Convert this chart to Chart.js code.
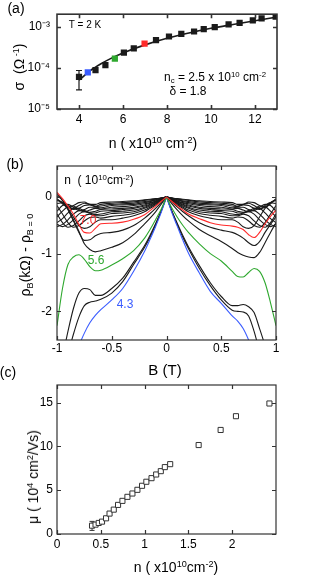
<!DOCTYPE html>
<html>
<head>
<meta charset="utf-8">
<script src="https://cdn.jsdelivr.net/npm/chart.js@4.4.0/dist/chart.umd.min.js"></script>
<style>
  html, body { margin: 0; padding: 0; background: #fff; }
  body { width: 333px; height: 578px; position: relative; overflow: hidden;
         font-family: "Liberation Sans", Arial, sans-serif; color: #000; }
  canvas { position: absolute; left: 0; }
  .t { position: absolute; white-space: nowrap; transform: translate(-50%, -50%); line-height: 1; }
  .rot { transform: translate(-50%, -50%) rotate(-90deg); }
  sup { font-size: 65%; vertical-align: 0.55em; line-height: 0; }
  sub { font-size: 65%; vertical-align: -0.3em; line-height: 0; }
</style>
</head>
<body>
<canvas id="chartA" width="333" height="132" style="top:0px"></canvas>
<canvas id="chartB" width="333" height="210" style="top:150px"></canvas>
<canvas id="chartC" width="333" height="190" style="top:370px"></canvas>

<div class="t" style="left:16px;top:8px;font-size:14px">(a)</div>
<div class="t" style="left:85px;top:25px;font-size:10px">T = 2 K</div>
<div class="t" style="left:215px;top:77px;font-size:12px">n<sub>c</sub> = 2.5 x 10<sup>10</sup> cm<sup>-2</sup></div>
<div class="t" style="left:188px;top:91px;font-size:12px">&delta; = 1.8</div>
<div class="t rot" style="left:19px;top:67px;font-size:14px">&sigma;&nbsp; (&Omega;<sup> -1</sup>)</div>
<div class="t" style="left:153px;top:143px;font-size:14px">n ( x10<sup>10</sup> cm<sup>-2</sup>)</div>

<div class="t" style="left:15px;top:164px;font-size:14px">(b)</div>
<div class="t" style="left:99px;top:180px;font-size:12px">n&nbsp; ( 10<sup>10</sup>cm<sup>-2</sup>)</div>
<div class="t" style="left:88px;top:220px;font-size:12px;color:#ff2a2a">7.0</div>
<div class="t" style="left:96px;top:260px;font-size:12px;color:#2ea82e">5.6</div>
<div class="t" style="left:125px;top:304px;font-size:12px;color:#3a5cff">4.3</div>
<div class="t rot" style="left:25px;top:255px;font-size:14px">&rho;<sub>B</sub>(k&Omega;) - &rho;<sub>B = 0</sub></div>
<div class="t" style="left:165px;top:369px;font-size:15px">B (T)</div>

<div class="t" style="left:8px;top:372px;font-size:14px">(c)</div>
<div class="t rot" style="left:33px;top:477px;font-size:14px">&mu; ( 10<sup>4</sup> cm<sup>2</sup>/Vs)</div>
<div class="t" style="left:176px;top:567px;font-size:14px">n ( x10<sup>10</sup>cm<sup>-2</sup>)</div>

<script>
// ---------- panel (a): conductivity vs density ----------
const A_N = [4.0, 4.4, 4.75, 5.2, 5.63, 6.04, 6.49, 6.98, 7.5, 8.09, 8.65, 9.23, 9.67, 10.17, 10.8, 11.3, 11.9, 12.3, 12.94];
const A_SIGMA = [6.0e-5, 7.7e-5, 8.8e-5, 1.16e-4, 1.66e-4, 2.33e-4, 2.97e-4, 3.87e-4, 4.67e-4, 5.75e-4,
                 6.68e-4, 7.6e-4, 8.7e-4, 9.7e-4, 1.13e-3, 1.23e-3, 1.42e-3, 1.58e-3, 1.75e-3];
const A_ERR = [{ x: 4.0, lo: 2.9e-5, hi: 8.6e-5 }];
const A_FIT_N = [4, 4.5, 5, 5.5, 6, 7, 8, 9, 10, 11, 12, 13];
const A_FIT_SIGMA = [5.0e-5, 8.4e-5, 1.25e-4, 1.74e-4, 2.3e-4, 3.6e-4, 5.2e-4, 7.0e-4, 9.1e-4, 1.13e-3, 1.39e-3, 1.7e-3];
const A_X_TICKS = [4, 6, 8, 10, 12];
const A_Y_TICKS = [1e-5, 1e-4, 1e-3];
const A_Y_TICK_LABELS = ['10\u207B\u2075', '10\u207B\u2074', '10\u207B\u00B3'];

// ---------- panel (b): magnetoresistance curves, |B| grid ----------
const B_GRID = [0, 0.05, 0.1, 0.15, 0.2, 0.3, 0.4, 0.5, 0.6, 0.65, 0.7, 0.75, 0.8, 0.85, 0.9, 0.95, 1.0];
// coloured curves, left (B<0) and right (B>0) halves
const RHO_43_L = [0, -0.28, -0.52, -0.74, -0.95, -1.3, -1.6, -1.8, -1.97, -2.07, -2.2, -2.38, -2.6, -2.85, -3.1, -3.35, -3.6];
const RHO_43_R = [0, -0.28, -0.52, -0.76, -0.98, -1.33, -1.65, -1.86, -2.08, -2.17, -2.3, -2.5, -2.75, -3.0, -3.25, -3.5, -3.75];
const RHO_56_L = [0, -0.22, -0.4, -0.57, -0.72, -0.94, -1.08, -1.19, -1.28, -1.29, -1.22, -1.09, -1.01, -1.05, -1.18, -1.6, -2.25];
const RHO_56_R = [0, -0.2, -0.36, -0.5, -0.62, -0.82, -0.99, -1.12, -1.3, -1.39, -1.4, -1.32, -1.25, -1.3, -1.5, -1.85, -2.25];
const RHO_70_L = [0, -0.08, -0.16, -0.24, -0.31, -0.39, -0.44, -0.46, -0.47, -0.55, -0.63, -0.62, -0.48, -0.3, -0.16, -0.03, 0.08];
const RHO_70_R = [0, -0.08, -0.16, -0.23, -0.3, -0.38, -0.45, -0.49, -0.51, -0.53, -0.57, -0.66, -0.71, -0.62, -0.47, -0.34, -0.23];
// black curves between the coloured ones
const RHO_475_L = [0, -0.26, -0.49, -0.7, -0.88, -1.18, -1.48, -1.68, -1.79, -1.82, -1.84, -1.9, -2.1, -2.4, -2.75, -3.1, -3.4];
const RHO_475_R = [0, -0.26, -0.49, -0.71, -0.9, -1.25, -1.55, -1.8, -1.98, -2.0, -2.01, -2.08, -2.35, -2.7, -3.05, -3.4, -3.7];
const RHO_52_L = [0, -0.25, -0.47, -0.67, -0.85, -1.14, -1.42, -1.6, -1.72, -1.72, -1.62, -1.6, -1.68, -1.95, -2.35, -2.8, -3.2];
const RHO_52_R = [0, -0.25, -0.47, -0.68, -0.87, -1.2, -1.5, -1.74, -1.9, -1.9, -1.88, -1.92, -2.02, -2.3, -2.6, -2.95, -3.3];
const RHO_605_L = [0, -0.13, -0.26, -0.37, -0.47, -0.66, -0.8, -0.88, -0.94, -0.96, -0.92, -0.82, -0.6, -0.4, -0.22, -0.06, 0.02];
const RHO_605_R = [0, -0.12, -0.23, -0.33, -0.42, -0.57, -0.68, -0.78, -0.9, -0.97, -1.02, -1.05, -1.06, -0.97, -0.8, -0.62, -0.45];
const RHO_65_L = [0, -0.1, -0.2, -0.29, -0.37, -0.5, -0.58, -0.62, -0.64, -0.68, -0.75, -0.76, -0.62, -0.42, -0.22, -0.06, 0.06];
const RHO_65_R = [0, -0.09, -0.18, -0.26, -0.33, -0.45, -0.53, -0.58, -0.62, -0.66, -0.72, -0.8, -0.85, -0.78, -0.62, -0.48, -0.35];
// higher densities (7.5 ... 12.9), same half used on both sides
const RHO_HIGH = [
  [0, -0.07, -0.14, -0.2, -0.26, -0.33, -0.37, -0.4, -0.4, -0.44, -0.52, -0.55, -0.5, -0.35, -0.2, -0.1, -0.05],
  [0, -0.06, -0.12, -0.18, -0.23, -0.29, -0.32, -0.34, -0.37, -0.35, -0.36, -0.42, -0.5, -0.53, -0.45, -0.3, -0.15],
  [0, -0.05, -0.11, -0.16, -0.2, -0.26, -0.28, -0.29, -0.33, -0.33, -0.3, -0.33, -0.42, -0.5, -0.53, -0.45, -0.3],
  [0, -0.05, -0.1, -0.14, -0.18, -0.23, -0.25, -0.26, -0.3, -0.31, -0.28, -0.26, -0.3, -0.4, -0.48, -0.52, -0.48],
  [0, -0.04, -0.09, -0.13, -0.16, -0.2, -0.22, -0.24, -0.25, -0.28, -0.28, -0.24, -0.24, -0.3, -0.4, -0.48, -0.52],
  [0, -0.04, -0.08, -0.11, -0.14, -0.18, -0.2, -0.21, -0.22, -0.25, -0.27, -0.25, -0.2, -0.2, -0.28, -0.38, -0.45],
  [0, -0.03, -0.07, -0.1, -0.12, -0.15, -0.17, -0.18, -0.21, -0.2, -0.23, -0.26, -0.22, -0.16, -0.17, -0.25, -0.35],
  [0, -0.03, -0.06, -0.08, -0.1, -0.13, -0.14, -0.15, -0.19, -0.18, -0.18, -0.22, -0.24, -0.18, -0.13, -0.15, -0.25],
  [0, -0.02, -0.05, -0.07, -0.08, -0.11, -0.12, -0.13, -0.16, -0.17, -0.14, -0.15, -0.2, -0.22, -0.15, -0.1, -0.12],
  [0, -0.02, -0.04, -0.05, -0.06, -0.09, -0.1, -0.11, -0.13, -0.16, -0.13, -0.11, -0.15, -0.2, -0.18, -0.1, -0.06],
  [0, -0.02, -0.03, -0.04, -0.05, -0.07, -0.08, -0.09, -0.1, -0.13, -0.13, -0.09, -0.1, -0.15, -0.18, -0.12, -0.03]
];
const B_X_TICKS = [-1, -0.5, 0, 0.5, 1];
const B_Y_TICKS = [-2, -1, 0];

// ---------- panel (c): mobility vs density ----------
const C_N = [0.40, 0.44, 0.476, 0.514, 0.56, 0.60, 0.648, 0.697, 0.747, 0.804, 0.861, 0.918, 0.971, 1.02,
             1.079, 1.132, 1.185, 1.231, 1.292, 1.617, 1.868, 2.043, 2.425];
const C_MU = [0.95, 1.07, 1.26, 1.41, 1.79, 2.33, 2.78, 3.32, 3.78, 4.24, 4.62, 5.04, 5.5, 5.96,
              6.37, 6.79, 7.17, 7.63, 7.97, 10.15, 11.87, 13.44, 14.89];
const C_ERR = [{ x: 0.40, lo: 0.41, hi: 1.44 }];
const C_X_TICKS = [0, 0.5, 1, 1.5, 2];
const C_Y_TICKS = [0, 5, 10, 15];

const RED = '#ff2a2a';
const GREEN = '#2ea82e';
const BLUE = '#3a5cff';
const INK = '#1a1a1a';

Chart.defaults.font.family = '"Liberation Sans", Arial, sans-serif';
Chart.defaults.font.size = 12;
Chart.defaults.color = '#000';
Chart.defaults.animation = false;
Chart.defaults.responsive = false;
Chart.defaults.devicePixelRatio = 1;
Chart.defaults.plugins.legend.display = false;
Chart.defaults.plugins.tooltip.enabled = false;

// box round the plot area with ticks pointing inwards
const frameTicks = {
  id: 'frameTicks',
  afterDatasetsDraw(chart, args, opts) {
    const { ctx, chartArea: a, scales } = chart;
    const len = opts.len || 4;
    ctx.save();
    ctx.strokeStyle = opts.color || '#333';
    ctx.lineWidth = opts.width || 1;
    ctx.beginPath();
    scales.x.ticks.forEach(t => {
      const px = Math.round(scales.x.getPixelForValue(t.value)) + 0.5;
      ctx.moveTo(px, a.bottom); ctx.lineTo(px, a.bottom - len);
      ctx.moveTo(px, a.top); ctx.lineTo(px, a.top + len);
    });
    scales.y.ticks.forEach(t => {
      const py = Math.round(scales.y.getPixelForValue(t.value)) + 0.5;
      ctx.moveTo(a.left, py); ctx.lineTo(a.left + len, py);
      ctx.moveTo(a.right, py); ctx.lineTo(a.right - len, py);
    });
    ctx.stroke();
    ctx.strokeRect(a.left, a.top, a.right - a.left, a.bottom - a.top);
    ctx.restore();
  }
};

// vertical error bars with caps
const errorBars = {
  id: 'errorBars',
  beforeDatasetsDraw(chart, args, opts) {
    if (!opts.bars) return;
    const { ctx, scales } = chart;
    ctx.save();
    ctx.strokeStyle = opts.color || INK;
    ctx.lineWidth = opts.width || 1;
    opts.bars.forEach(b => {
      const px = scales.x.getPixelForValue(b.x);
      const y1 = scales.y.getPixelForValue(b.lo);
      const y2 = scales.y.getPixelForValue(b.hi);
      ctx.beginPath();
      ctx.moveTo(px, y1); ctx.lineTo(px, y2);
      ctx.moveTo(px - opts.cap, y1); ctx.lineTo(px + opts.cap, y1);
      ctx.moveTo(px - opts.cap, y2); ctx.lineTo(px + opts.cap, y2);
      ctx.stroke();
    });
    ctx.restore();
  }
};

const fixedTicks = list => scale => { scale.ticks = list.map(v => ({ value: v })); };

const xAxis = (min, max, ticks, height, pad, extra) => Object.assign({
  type: 'linear', min: min, max: max,
  grid: { display: false, drawTicks: false },
  border: { display: false },
  ticks: { padding: pad, maxRotation: 0, autoSkip: false, callback: v => String(v) },
  afterBuildTicks: fixedTicks(ticks),
  afterFit: s => { s.height = height; }
}, extra || {});

const yAxis = (min, max, ticks, width, pad, extra) => Object.assign({
  type: 'linear', min: min, max: max,
  grid: { display: false, drawTicks: false },
  border: { display: false },
  ticks: { padding: pad, autoSkip: false, callback: v => String(v) },
  afterBuildTicks: fixedTicks(ticks),
  afterFit: s => { s.width = width; }
}, extra || {});

const pairs = (xs, ys) => xs.map((x, i) => ({ x: x, y: ys[i] }));

// ---------- chart (a) ----------
const HIGHLIGHT_A = { 1: BLUE, 4: GREEN, 7: RED };

new Chart(document.getElementById('chartA'), {
  type: 'line',
  data: {
    datasets: [
      {
        data: pairs(A_N, A_SIGMA),
        showLine: false,
        pointStyle: 'rect',
        pointRadius: 4.4,
        pointBorderWidth: 0,
        pointBackgroundColor: c => HIGHLIGHT_A[c.dataIndex] || INK,
        pointBorderColor: c => HIGHLIGHT_A[c.dataIndex] || INK,
        order: 0
      },
      {
        data: pairs(A_FIT_N, A_FIT_SIGMA),
        borderColor: INK,
        borderWidth: 1.6,
        pointRadius: 0,
        tension: 0.4,
        cubicInterpolationMode: 'monotone',
        order: 1
      }
    ]
  },
  options: {
    layout: { padding: { top: 14, right: 56, left: 0, bottom: 0 } },
    scales: {
      x: xAxis(3, 13, A_X_TICKS, 23, 3),
      y: yAxis(1e-5, 2e-3, A_Y_TICKS, 57, 7, {
        type: 'logarithmic',
        ticks: { padding: 7, autoSkip: false,
                 callback: v => A_Y_TICK_LABELS[A_Y_TICKS.indexOf(v)] }
      })
    },
    plugins: {
      frameTicks: { len: 4, width: 1.6, color: '#333' },
      errorBars: { bars: A_ERR, cap: 3, width: 1.2, color: INK }
    }
  },
  plugins: [frameTicks, errorBars]
});

// ---------- chart (b) ----------
const halfCurve = (vals, sign) => {
  const pts = B_GRID.map((b, i) => ({ x: sign * b, y: vals[i] }));
  return sign < 0 ? pts.reverse() : pts;
};

const curveSets = [];
const addCurve = (left, right, color, width, order) => {
  [[left, -1], [right, 1]].forEach(([vals, sign]) => {
    curveSets.push({
      data: halfCurve(vals, sign),
      borderColor: color,
      borderWidth: width,
      pointRadius: 0,
      tension: 0.4,
      cubicInterpolationMode: 'monotone',
      order: order
    });
  });
};

RHO_HIGH.forEach(c => addCurve(c, c, INK, 1.1, 2));
addCurve(RHO_65_L, RHO_65_R, INK, 1.1, 2);
addCurve(RHO_605_L, RHO_605_R, INK, 1.1, 2);
addCurve(RHO_52_L, RHO_52_R, INK, 1.1, 2);
addCurve(RHO_475_L, RHO_475_R, INK, 1.1, 2);
addCurve(RHO_70_L, RHO_70_R, RED, 1.1, 0);
addCurve(RHO_56_L, RHO_56_R, GREEN, 1.1, 0);
addCurve(RHO_43_L, RHO_43_R, BLUE, 1.1, 0);

new Chart(document.getElementById('chartB'), {
  type: 'line',
  data: { datasets: curveSets },
  options: {
    layout: { padding: { top: 16, right: 57, left: 0, bottom: 0 } },
    scales: {
      x: xAxis(-1, 1, B_X_TICKS, 20, 1),
      y: yAxis(-2.5, 0.54, B_Y_TICKS, 57, 5)
    },
    plugins: {
      frameTicks: { len: 4, width: 1.2, color: '#333' }
    }
  },
  plugins: [frameTicks]
});

// ---------- chart (c) ----------
new Chart(document.getElementById('chartC'), {
  type: 'line',
  data: {
    datasets: [{
      data: pairs(C_N, C_MU),
      showLine: false,
      pointStyle: 'rect',
      pointRadius: 3.6,
      pointBorderWidth: 1,
      pointBorderColor: '#333',
      pointBackgroundColor: '#fff'
    }]
  },
  options: {
    layout: { padding: { top: 15, right: 57, left: 0, bottom: 0 } },
    scales: {
      x: xAxis(0, 2.5, C_X_TICKS, 26, 3),
      y: yAxis(0, 17, C_Y_TICKS, 57, 4)
    },
    plugins: {
      frameTicks: { len: 4, width: 1.2, color: '#333' },
      errorBars: { bars: C_ERR, cap: 2.5, width: 1, color: '#333' }
    }
  },
  plugins: [frameTicks, errorBars]
});
</script>
</body>
</html>
